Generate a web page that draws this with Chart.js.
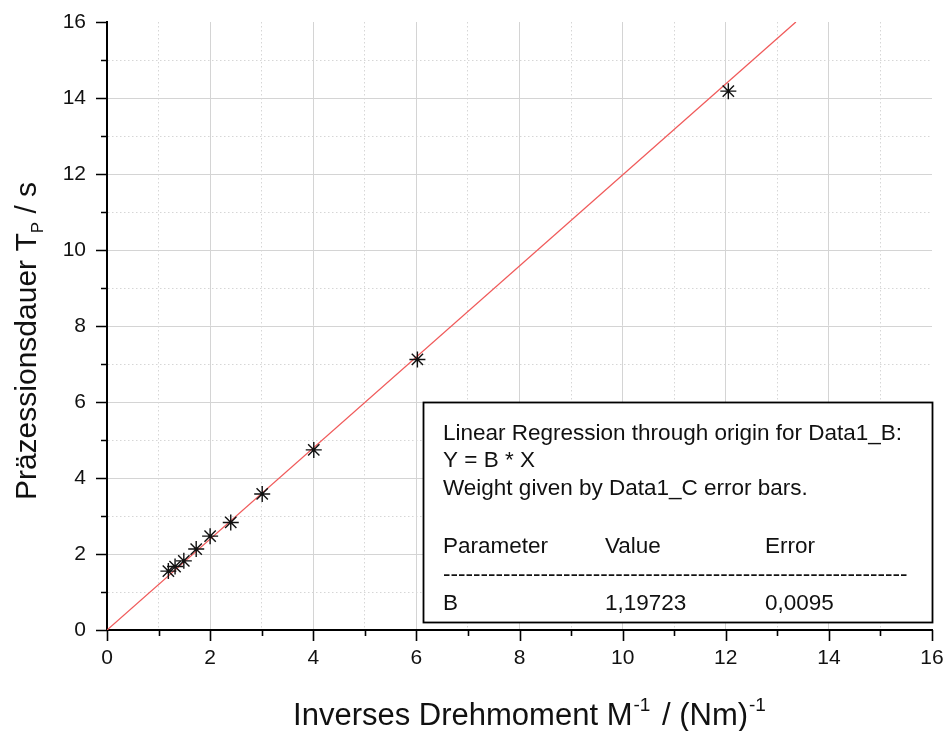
<!DOCTYPE html>
<html>
<head>
<meta charset="utf-8">
<script src="https://cdn.jsdelivr.net/npm/chart.js@4.4.1/dist/chart.umd.min.js"></script>
<style>
  html, body { margin: 0; padding: 0; background: #fff; }
</style>
</head>
<body>
<canvas id="myChart" width="946" height="731"></canvas>
<script>
const measX = [1.19, 1.32, 1.49, 1.73, 2.0, 2.40, 3.01, 4.01, 6.02, 12.05];
const measY = [1.55, 1.67, 1.82, 2.13, 2.47, 2.83, 3.58, 4.74, 7.12, 14.18];
// regression line through origin, ends where it leaves the frame
const fitX = [0, 13.36];
const fitY = [0, 16];
// axis settings
const axisMin = 0;
const axisMax = 16;
// text of the fit box
const boxLines = ['Linear Regression through origin for Data1_B:', 'Y = B * X', 'Weight given by Data1_C error bars.'];
const boxHeader = ['Parameter', 'Value', 'Error'];
const boxRow = ['B', '1,19723', '0,0095'];

const FONT = '"Liberation Sans", Arial, sans-serif';

function pts(xs, ys) {
  return xs.map((x, i) => ({x: x, y: ys[i]}));
}

// draws the outward ticks: long ones at even values, short at odd
const tickPlugin = {
  id: 'tickMarks',
  afterDraw(chart) {
    const ctx = chart.ctx;
    const xs = chart.scales.x, ys = chart.scales.y;
    const area = chart.chartArea;
    ctx.save();
    ctx.strokeStyle = '#000';
    ctx.lineWidth = 1.6;
    ctx.beginPath();
    xs.ticks.forEach(t => {
      const px = Math.round(xs.getPixelForValue(t.value)) + 0.5;
      const len = t.value % 2 ? 6 : 11;
      ctx.moveTo(px, area.bottom);
      ctx.lineTo(px, area.bottom + len);
    });
    ys.ticks.forEach(t => {
      const py = Math.round(ys.getPixelForValue(t.value)) + 0.5;
      const len = t.value % 2 ? 6 : 11;
      ctx.moveTo(area.left, py);
      ctx.lineTo(area.left - len, py);
    });
    ctx.stroke();
    ctx.restore();
  }
};

// axis titles with sub/superscripts
function drawParts(ctx, parts, x, y) {
  let cx = x;
  parts.forEach(p => {
    ctx.font = p.size + 'px ' + FONT;
    ctx.fillText(p.t, cx, y + (p.dy || 0));
    cx += ctx.measureText(p.t).width + (p.gap || 0);
  });
}
function partsWidth(ctx, parts) {
  let w = 0;
  parts.forEach(p => {
    ctx.font = p.size + 'px ' + FONT;
    w += ctx.measureText(p.t).width + (p.gap || 0);
  });
  return w;
}

const titlePlugin = {
  id: 'axisTitles',
  afterDraw(chart) {
    const ctx = chart.ctx;
    const area = chart.chartArea;
    ctx.save();
    ctx.fillStyle = '#111';
    ctx.textBaseline = 'alphabetic';
    ctx.textAlign = 'left';
    const xParts = [
      {t: 'Inverses Drehmoment M', size: 31, gap: 1},
      {t: '-1', size: 19, dy: -14, gap: 3},
      {t: ' / (Nm)', size: 31, gap: 1},
      {t: '-1', size: 19, dy: -14}
    ];
    const xw = partsWidth(ctx, xParts);
    drawParts(ctx, xParts, (area.left + area.right) / 2 + 10 - xw / 2, 725);

    const yParts = [
      {t: 'Präzessionsdauer T', size: 30},
      {t: 'P', size: 17, dy: 7},
      {t: ' / s', size: 30}
    ];
    const yw = partsWidth(ctx, yParts);
    ctx.translate(36, 341);
    ctx.rotate(-Math.PI / 2);
    drawParts(ctx, yParts, -yw / 2, 0);
    ctx.restore();
  }
};

// the fit result box
const boxPlugin = {
  id: 'fitBox',
  afterDraw(chart) {
    const ctx = chart.ctx;
    ctx.save();
    ctx.fillStyle = '#fff';
    ctx.fillRect(423, 402, 510, 221);
    ctx.strokeStyle = '#000';
    ctx.lineWidth = 1.8;
    ctx.strokeRect(423.5, 402.5, 509, 220);
    ctx.fillStyle = '#111';
    ctx.font = '22.5px ' + FONT;
    ctx.textBaseline = 'alphabetic';
    const left = 443;
    const cols = [443, 605, 765];
    ctx.fillText(boxLines[0], left, 440);
    ctx.fillText(boxLines[1], left, 467);
    ctx.fillText(boxLines[2], left, 495);
    boxHeader.forEach((s, i) => ctx.fillText(s, cols[i], 553));
    let dashes = '';
    while (ctx.measureText(dashes + '-').width < 472) dashes += '-';
    ctx.fillText(dashes, left, 581);
    boxRow.forEach((s, i) => ctx.fillText(s, cols[i], 610));
    ctx.restore();
  }
};

const gridColor = ctx => {
  if (ctx.type !== 'tick' || !ctx.tick) return 'rgba(0,0,0,0)';
  const v = ctx.tick.value;
  if (v === axisMax || v === axisMin) return 'rgba(0,0,0,0)';
  return v % 2 ? '#d6d6d6' : '#d4d4d4';
};
const gridDash = ctx => {
  if (ctx.type === 'tick' && ctx.tick && ctx.tick.value % 2) return [1.5, 2.5];
  return [];
};
const tickLabel = v => (v % 2 ? '' : v);

const myChart = new Chart(document.getElementById('myChart'), {
  type: 'scatter',
  data: {
    datasets: [{
      label: 'Fit',
      data: pts(fitX, fitY),
      showLine: true,
      borderColor: 'rgb(240,90,90)',
      borderWidth: 1.3,
      pointRadius: 0,
      order: 2
    }, {
      label: 'Data1_B',
      data: pts(measX, measY),
      pointStyle: 'star',
      pointRadius: 8,
      borderColor: '#111',
      borderWidth: 1.4,
      backgroundColor: '#000',
      order: 1
    }]
  },
  options: {
    responsive: false,
    animation: false,
    layout: { padding: { left: 0, top: 22, right: 14, bottom: 0 } },
    plugins: {
      legend: { display: false },
      tooltip: { enabled: false }
    },
    scales: {
      x: {
        type: 'linear',
        min: axisMin,
        max: axisMax,
        ticks: {
          stepSize: 1,
          autoSkip: false,
          maxRotation: 0,
          padding: 16,
          color: '#111',
          font: { family: FONT, size: 21 },
          callback: tickLabel
        },
        grid: { color: gridColor, lineWidth: 1, drawTicks: false },
        border: { color: '#000', width: 2, dash: gridDash },
        afterFit(scale) {
          scale.height = 101;
          scale.paddingLeft = 0;
          scale.paddingRight = 0;
        }
      },
      y: {
        type: 'linear',
        min: axisMin,
        max: axisMax,
        ticks: {
          stepSize: 1,
          autoSkip: false,
          padding: 21,
          color: '#111',
          font: { family: FONT, size: 21 },
          callback: tickLabel
        },
        grid: { color: gridColor, lineWidth: 1, drawTicks: false },
        border: { color: '#000', width: 2, dash: gridDash },
        afterFit(scale) {
          scale.width = 107;
          scale.paddingTop = 0;
          scale.paddingBottom = 0;
        }
      }
    }
  },
  plugins: [tickPlugin, titlePlugin, boxPlugin]
});
</script>
</body>
</html>
